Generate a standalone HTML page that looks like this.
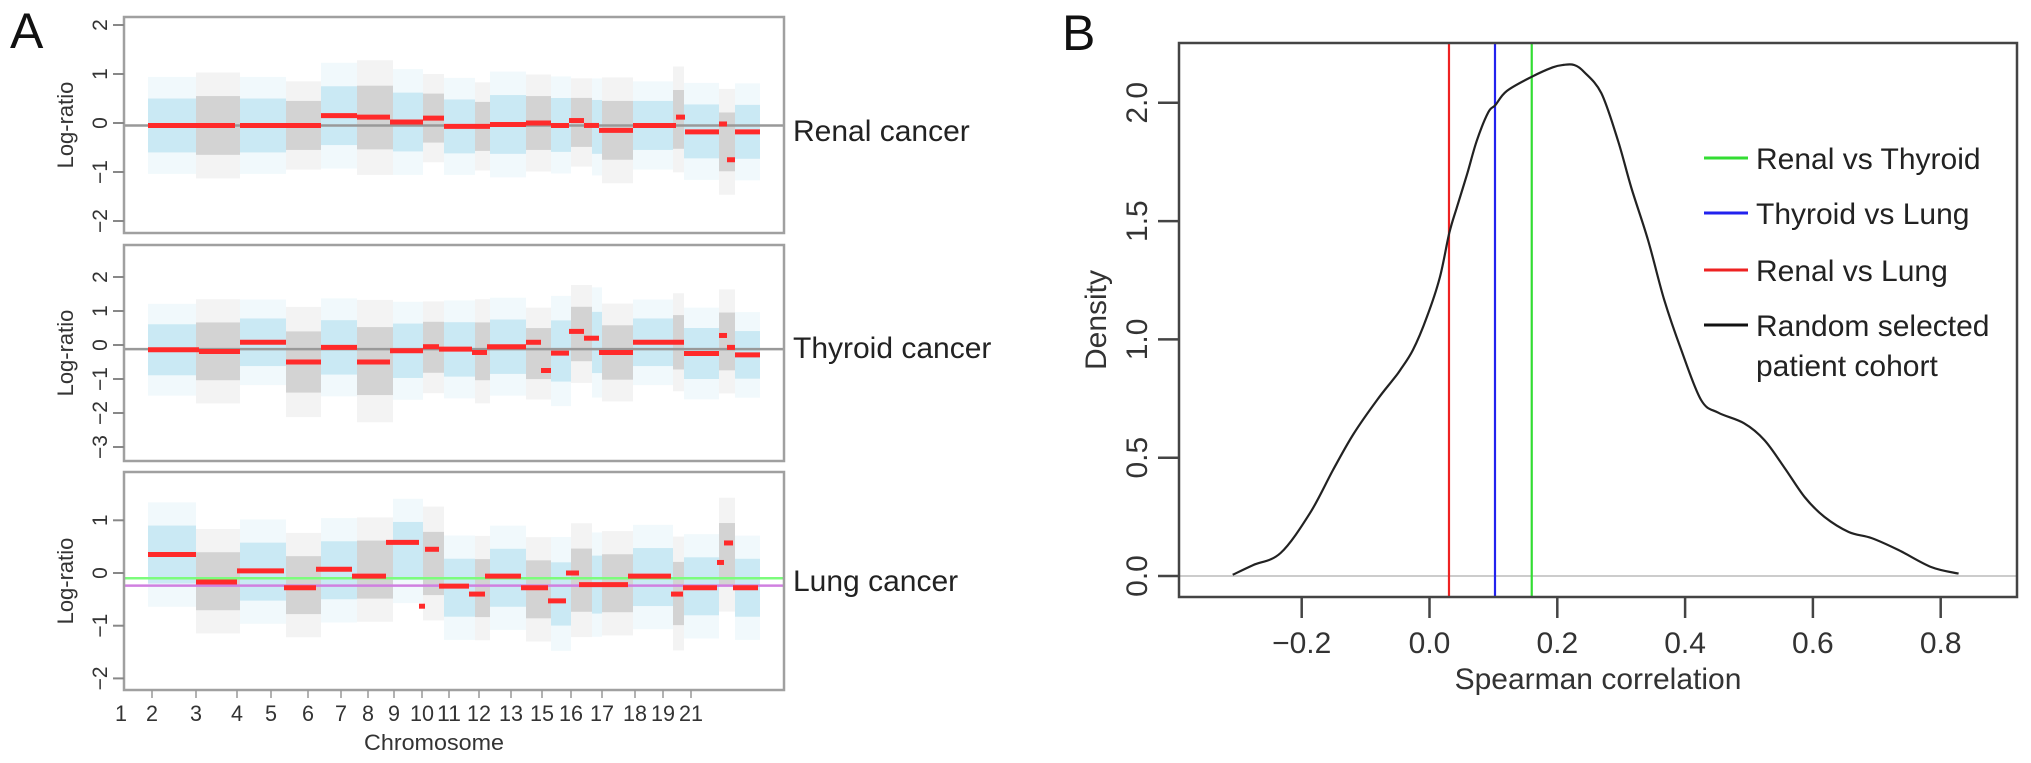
<!DOCTYPE html>
<html><head><meta charset="utf-8">
<style>
html,body{margin:0;padding:0;background:#fff;}
svg{display:block;font-family:"Liberation Sans",sans-serif;}
</style></head>
<body>
<svg id="fig" width="2031" height="763" viewBox="0 0 2031 763" xmlns="http://www.w3.org/2000/svg">
<text x="10" y="48" font-size="50" fill="#111">A</text>
<text x="1062" y="50" font-size="50" fill="#111">B</text>
</svg>
<script>
// ---------- Panel A data ----------
const chromLen = [48,44,46,35,36,36,30,21,31,15,36,25,20,21,10,31,40,11,35,16,25];
const chromLabels = ['1','2','3','4','5','6','7','8','9','10','11','12','13','15','16','17','18','19','21'];
const chromLabelPos = [-27,4,48,89,123,160,193,220,246,274,301,331,363,394,423,454,487,515,543];
const renalSeg = [[0,87,-0.05],[92,173,-0.05],[173,209,0.15],[209,242,0.12],[242,275,0.02],[275,296,0.1],[296,342,-0.07],[342,378,-0.03],[378,403,0.0],[403,421,-0.05],[421,436,0.05],[436,451,-0.05],[451,485,-0.15],[485,528,-0.05],[528,537,0.12],[537,571,-0.18],[571,579,-0.02],[579,587,-0.75],[587,612,-0.18]];
const thyroidSeg = [[0,51,-0.14],[51,92,-0.19],[92,138,0.08],[138,173,-0.5],[173,209,-0.07],[209,242,-0.5],[242,275,-0.17],[275,291,-0.05],[291,324,-0.12],[324,339,-0.22],[339,378,-0.05],[378,393,0.08],[393,403,-0.75],[403,421,-0.24],[421,436,0.4],[436,451,0.2],[451,485,-0.22],[485,536,0.08],[536,571,-0.25],[571,579,0.28],[579,587,-0.07],[587,612,-0.29]];
const lungSeg = [[0,48,0.35],[48,89,-0.17],[89,136,0.04],[136,168,-0.28],[168,204,0.07],[204,238,-0.06],[238,271,0.58],[271,277,-0.63],[277,291,0.45],[291,321,-0.25],[321,337,-0.4],[337,373,-0.06],[373,400,-0.28],[400,418,-0.53],[418,431,0.0],[431,480,-0.22],[480,523,-0.06],[523,535,-0.4],[535,569,-0.28],[569,576,0.2],[576,585,0.57],[585,610,-0.28]];
const renalSpread = [0.55,0.6,0.55,0.5,0.6,0.65,0.6,0.5,0.55,0.5,0.6,0.55,0.55,0.5,0.55,0.6,0.5,0.6,0.55,0.6,0.55];
const thyroidSpread = [0.75,0.85,0.7,0.9,0.8,1.0,0.8,0.75,0.8,0.85,0.8,0.75,0.9,0.8,0.9,0.8,0.7,0.8,0.75,0.85,0.7];
const lungSpread = [0.55,0.55,0.55,0.55,0.55,0.55,0.55,0.6,0.55,0.55,0.55,0.55,0.6,0.6,0.55,0.55,0.55,0.6,0.55,0.6,0.55];
const renalTicks = [-2,-1,0,1,2];
const thyroidTicks = [-3,-2,-1,0,1,2];
const lungTicks = [-2,-1,0,1];
const renalBase = [-0.05];
const thyroidBase = [-0.12];
const lungRefLines = [-0.1,-0.24];
const lungRefColors = ['#7CFC7C','#d080e0'];

// ---------- Panel B data ----------
const densX = [-0.308,-0.276,-0.233,-0.187,-0.151,-0.119,-0.082,-0.057,-0.046,-0.026,-0.004,0.016,0.031,0.043,0.059,0.074,0.092,0.103,0.121,0.16,0.193,0.21,0.226,0.242,0.269,0.295,0.316,0.342,0.367,0.394,0.425,0.452,0.492,0.524,0.555,0.587,0.618,0.656,0.692,0.734,0.785,0.828];
const densY = [0.005,0.046,0.097,0.266,0.448,0.6,0.744,0.83,0.87,0.955,1.095,1.26,1.45,1.56,1.7,1.84,1.96,1.99,2.05,2.11,2.15,2.16,2.16,2.13,2.04,1.84,1.64,1.42,1.17,0.955,0.744,0.69,0.646,0.575,0.46,0.334,0.25,0.186,0.16,0.11,0.038,0.01];
const corrNames = ['Renal vs Thyroid','Thyroid vs Lung','Renal vs Lung'];
const corrValues = [0.16,0.1025,0.0305];
const corrColors = ['#33dd33','#2222ee','#ee2222'];
const xTicksB = [-0.2,0.0,0.2,0.4,0.6,0.8];
const xTickLabelsB = ['\u22120.2','0.0','0.2','0.4','0.6','0.8'];
const yTicksB = [0,0.5,1.0,1.5,2.0];
const yTickLabelsB = ['0.0','0.5','1.0','1.5','2.0'];
const legendLabels = ['Renal vs Thyroid','Thyroid vs Lung','Renal vs Lung','Random selected'];
const legendColors = ['#33dd33','#2222ee','#ee2222','#111111'];

const NS = 'http://www.w3.org/2000/svg';
const svg = document.getElementById('fig');
function mk(tag, attrs, parent) {
  const e = document.createElementNS(NS, tag);
  for (const k in attrs) e.setAttribute(k, attrs[k]);
  (parent || svg).appendChild(e);
  return e;
}

// ---------- Panel A ----------
const AX0 = 124, AX1 = 784, DATA0 = 148;
function xA(g) { return DATA0 + g; }
const chromStart = [];
let acc = 0;
for (let i = 0; i < chromLen.length; i++) { chromStart.push(acc); acc += chromLen[i]; }

const panels = [
  {name:'renal', top:17, bottom:233, zero:123, unit:49, seg:renalSeg, spread:renalSpread, ticks:renalTicks, label:'Renal cancer', labelY:141},
  {name:'thyroid', top:245, bottom:461, zero:345, unit:34, seg:thyroidSeg, spread:thyroidSpread, ticks:thyroidTicks, label:'Thyroid cancer', labelY:358},
  {name:'lung', top:472, bottom:690, zero:573, unit:52.7, seg:lungSeg, spread:lungSpread, ticks:lungTicks, label:'Lung cancer', labelY:591}
];

panels.forEach(function(p) {
  const g = mk('g', {});
  
  
  const yv = function(v) { return p.zero - v * p.unit; };
  for (let i = 0; i < chromLen.length; i++) {
    const s = chromStart[i], e = s + chromLen[i];
    let sum = 0, w = 0;
    p.seg.forEach(function(sg) {
      const ov = Math.min(e, sg[1]) - Math.max(s, sg[0]);
      if (ov > 0) { sum += ov * sg[2]; w += ov; }
    });
    const c = w > 0 ? sum / w : 0;
    const col = i % 2 === 0 ? '#8ccfe8' : '#a0a0a0';
    const sp = p.spread[i];
    const outer = mk('rect', {x:xA(s), y:yv(c + sp*1.8), width:chromLen[i], height:sp*3.6*p.unit, fill:col, opacity:0.12}, g);
    
    
    const inner = mk('rect', {x:xA(s), y:yv(c + sp), width:chromLen[i], height:sp*2*p.unit, fill:col, opacity:0.38}, g);
    
    
  }
  if (p.name === 'lung') {
    lungRefLines.forEach(function(v, k) {
      const l = mk('line', {x1:AX0, x2:AX1, y1:yv(v), y2:yv(v), stroke:lungRefColors[k], 'stroke-width':2.5}, g);
      
      
    });
  } else {
    const bv = p.name === 'renal' ? renalBase[0] : thyroidBase[0];
    const l = mk('line', {x1:AX0, x2:AX1, y1:yv(bv), y2:yv(bv), stroke:'#999', 'stroke-width':2.5}, g);
    
    
  }
  p.seg.forEach(function(sg, k) {
    const r = mk('line', {x1:xA(sg[0]), x2:xA(sg[1]), y1:yv(sg[2]), y2:yv(sg[2]), stroke:'#ff2a2a', 'stroke-width':5}, g);
    
    
  });
  const b = mk('rect', {x:AX0, y:p.top, width:AX1-AX0, height:p.bottom-p.top, fill:'none', stroke:'#a0a0a0', 'stroke-width':2.5}, g);
  
  
  p.ticks.forEach(function(t) {
    const tl = mk('line', {x1:113, x2:AX0, y1:yv(t), y2:yv(t), stroke:'#888', 'stroke-width':2}, g);
    
    
    const tx = mk('text', {x:0, y:0, 'font-size':21, fill:'#333', 'text-anchor':'middle', transform:'translate(107,' + yv(t) + ') rotate(-90)'}, g);
    tx.textContent = t < 0 ? '\u2212' + Math.abs(t) : String(t);
    
    
  });
  const yt = mk('text', {x:0, y:0, 'font-size':22, fill:'#333', 'text-anchor':'middle', transform:'translate(73,' + ((p.top+p.bottom)/2) + ') rotate(-90)'}, g);
  yt.textContent = 'Log-ratio';
  
  
  const lb = mk('text', {x:793, y:p.labelY, 'font-size':30, fill:'#222'}, g);
  lb.textContent = p.label;
  
  
});

chromLabels.forEach(function(lab, k) {
  const x = xA(chromLabelPos[k]);
  if (k > 0) {
    const t = mk('line', {x1:x, x2:x, y1:690, y2:698, stroke:'#999', 'stroke-width':1.5});
    
    
  }
  const tx = mk('text', {x:x, y:721, 'font-size':22, fill:'#333', 'text-anchor':'middle', textLength:lab.length*12, lengthAdjust:'spacingAndGlyphs'});
  tx.textContent = lab;
  
  
});
const ct = mk('text', {x:434, y:750, 'font-size':22, fill:'#333', 'text-anchor':'middle', textLength:140, lengthAdjust:'spacingAndGlyphs'});
ct.textContent = 'Chromosome';



// ---------- Panel B ----------
const BX0 = 1179, BX1 = 2017, BY0 = 43, BY1 = 597;
function xB(v) { return 1429.5 + v * 639; }
function yB(d) { return 576 - d * 236.6; }

const zl = mk('line', {x1:BX0, x2:BX1, y1:yB(0), y2:yB(0), stroke:'#cccccc', 'stroke-width':2});



corrValues.forEach(function(v, k) {
  const l = mk('line', {x1:xB(v), x2:xB(v), y1:BY0, y2:BY1, stroke:corrColors[k], 'stroke-width':2.2});
  
  
});

// smooth path (Catmull-Rom)
const pts = densX.map(function(v, k) { return [xB(v), yB(densY[k])]; });
let d = 'M' + pts[0][0].toFixed(1) + ',' + pts[0][1].toFixed(1);
for (let i = 0; i < pts.length - 1; i++) {
  const p0 = pts[Math.max(0, i-1)], p1 = pts[i], p2 = pts[i+1], p3 = pts[Math.min(pts.length-1, i+2)];
  const c1x = p1[0] + (p2[0]-p0[0])/6, c1y = p1[1] + (p2[1]-p0[1])/6;
  const c2x = p2[0] - (p3[0]-p1[0])/6, c2y = p2[1] - (p3[1]-p1[1])/6;
  d += 'C' + c1x.toFixed(1) + ',' + c1y.toFixed(1) + ' ' + c2x.toFixed(1) + ',' + c2y.toFixed(1) + ' ' + p2[0].toFixed(1) + ',' + p2[1].toFixed(1);
}
const curve = mk('path', {d:d, fill:'none', stroke:'#222', 'stroke-width':2.2, 'stroke-linejoin':'round'});



const frame = mk('rect', {x:BX0, y:BY0, width:BX1-BX0, height:BY1-BY0, fill:'none', stroke:'#444', 'stroke-width':2.5});



xTicksB.forEach(function(v, k) {
  const t = mk('line', {x1:xB(v), x2:xB(v), y1:BY1, y2:618, stroke:'#444', 'stroke-width':2.5});
  
  
  const tx = mk('text', {x:xB(v), y:653, 'font-size':30, fill:'#333', 'text-anchor':'middle'});
  tx.textContent = xTickLabelsB[k];
  
  
});
yTicksB.forEach(function(v, k) {
  const t = mk('line', {x1:1158, x2:BX0, y1:yB(v), y2:yB(v), stroke:'#444', 'stroke-width':2.5});
  
  
  const tx = mk('text', {x:0, y:0, 'font-size':30, fill:'#333', 'text-anchor':'middle', transform:'translate(1147,' + yB(v) + ') rotate(-90)'});
  tx.textContent = yTickLabelsB[k];
  
  
});
const xt = mk('text', {x:1598, y:689, 'font-size':30, fill:'#333', 'text-anchor':'middle'});
xt.textContent = 'Spearman correlation';


const ytb = mk('text', {x:0, y:0, 'font-size':30, fill:'#333', 'text-anchor':'middle', transform:'translate(1106,320) rotate(-90)'});
ytb.textContent = 'Density';



const legY = [158, 213, 270, 325];
legendLabels.forEach(function(lab, k) {
  const l = mk('line', {x1:1704, x2:1748, y1:legY[k], y2:legY[k], stroke:legendColors[k], 'stroke-width':3});
  
  
  const t = mk('text', {x:1756, y:legY[k] + 11, 'font-size':30, fill:'#222'});
  t.textContent = lab;
  
  
});
const l2 = mk('text', {x:1756, y:376, 'font-size':30, fill:'#222'});
l2.textContent = 'patient cohort';


</script>
</body></html>
